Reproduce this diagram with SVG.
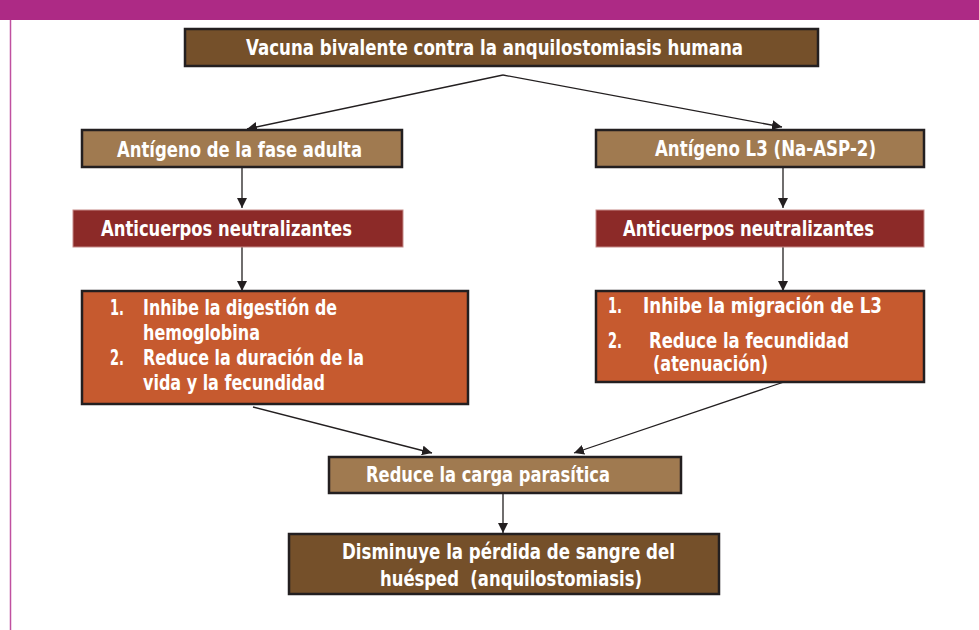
<svg xmlns="http://www.w3.org/2000/svg" width="979" height="630" viewBox="0 0 979 630">
<style>
.t{font-family:"Liberation Sans Narrow","DejaVu Sans Condensed","Liberation Sans",sans-serif;font-weight:bold;font-size:21.5px;fill:#ffffff}
.dk{fill:#75502A;stroke:#231F20;stroke-width:2.5}
.lt{fill:#A07A50;stroke:#231F20;stroke-width:2.5}
.rd{fill:#8C2A28;stroke:#C58A88;stroke-width:1}
.or{fill:#C65A2F;stroke:#231F20;stroke-width:2.5}
.c{stroke:#231F20;stroke-width:1.3;fill:none;marker-end:url(#ah)}
</style>
<defs>
<marker id="ah" viewBox="0 0 10 10" refX="10" refY="5" markerWidth="10" markerHeight="10" markerUnits="userSpaceOnUse" orient="auto">
<path d="M0,0 L10,5 L0,10 z" fill="#231F20"/>
</marker>
</defs>
<rect x="0" y="0" width="979" height="20" fill="#AD2A85"/>
<line x1="10.5" y1="20" x2="10.5" y2="630" stroke="#C050A0" stroke-width="1.5"/>
<g id="connectors">
<polyline class="c" points="503,75 247,129"/>
<polyline class="c" points="503,75 782,127"/>
<line class="c" x1="242" y1="167" x2="242" y2="208"/>
<line class="c" x1="783" y1="167" x2="783" y2="208"/>
<line class="c" x1="242" y1="247" x2="242" y2="291"/>
<line class="c" x1="783" y1="247" x2="783" y2="291"/>
<line class="c" x1="253" y1="407" x2="432" y2="453"/>
<line class="c" x1="784" y1="382" x2="574" y2="453"/>
<line class="c" x1="503" y1="493" x2="503" y2="533"/>
</g>
<g id="vacuna">
<rect class="dk" x="185" y="29" width="633" height="37"/>
<text class="t" x="246" y="55" textLength="497" lengthAdjust="spacingAndGlyphs">Vacuna bivalente contra la anquilostomiasis humana</text>
</g>
<g id="antigeno-adulta">
<rect class="lt" x="82" y="130" width="320" height="37"/>
<text class="t" x="117" y="157" textLength="245" lengthAdjust="spacingAndGlyphs">Antígeno de la fase adulta</text>
</g>
<g id="antigeno-l3">
<rect class="lt" x="596" y="130" width="328" height="37"/>
<text class="t" x="655" y="156" textLength="221" lengthAdjust="spacingAndGlyphs">Antígeno L3 (Na-ASP-2)</text>
</g>
<g id="anticuerpos-izq">
<rect class="rd" x="73" y="210" width="330" height="37"/>
<text class="t" x="101" y="236" textLength="251" lengthAdjust="spacingAndGlyphs">Anticuerpos neutralizantes</text>
</g>
<g id="anticuerpos-der">
<rect class="rd" x="596" y="210" width="328" height="37"/>
<text class="t" x="623" y="236" textLength="251" lengthAdjust="spacingAndGlyphs">Anticuerpos neutralizantes</text>
</g>
<g id="efectos-izq">
<rect class="or" x="82" y="291" width="386" height="113"/>
<text class="t" x="110" y="315" textLength="14" lengthAdjust="spacingAndGlyphs">1.</text>
<text class="t" x="143" y="315" textLength="194" lengthAdjust="spacingAndGlyphs">Inhibe la digestión de</text>
<text class="t" x="143" y="340" textLength="117" lengthAdjust="spacingAndGlyphs">hemoglobina</text>
<text class="t" x="110" y="365" textLength="14" lengthAdjust="spacingAndGlyphs">2.</text>
<text class="t" x="143" y="365" textLength="221" lengthAdjust="spacingAndGlyphs">Reduce la duración de la</text>
<text class="t" x="143" y="390" textLength="182" lengthAdjust="spacingAndGlyphs">vida y la fecundidad</text>
</g>
<g id="efectos-der">
<rect class="or" x="596" y="291" width="328" height="91"/>
<text class="t" x="608" y="313" textLength="14" lengthAdjust="spacingAndGlyphs">1.</text>
<text class="t" x="643" y="313" textLength="239" lengthAdjust="spacingAndGlyphs">Inhibe la migración de L3</text>
<text class="t" x="608" y="348" textLength="14" lengthAdjust="spacingAndGlyphs">2.</text>
<text class="t" x="649" y="348" textLength="200" lengthAdjust="spacingAndGlyphs">Reduce la fecundidad</text>
<text class="t" x="653" y="371" textLength="115" lengthAdjust="spacingAndGlyphs">(atenuación)</text>
</g>
<g id="reduce-carga">
<rect class="lt" x="329" y="457" width="352" height="36"/>
<text class="t" x="366" y="482" textLength="244" lengthAdjust="spacingAndGlyphs">Reduce la carga parasítica</text>
</g>
<g id="disminuye">
<rect class="dk" x="289" y="534" width="430" height="60"/>
<text class="t" x="342" y="559" textLength="333" lengthAdjust="spacingAndGlyphs">Disminuye la pérdida de sangre del</text>
<text class="t" x="380" y="586" textLength="262" lengthAdjust="spacingAndGlyphs" xml:space="preserve">huésped  (anquilostomiasis)</text>
</g>
</svg>
